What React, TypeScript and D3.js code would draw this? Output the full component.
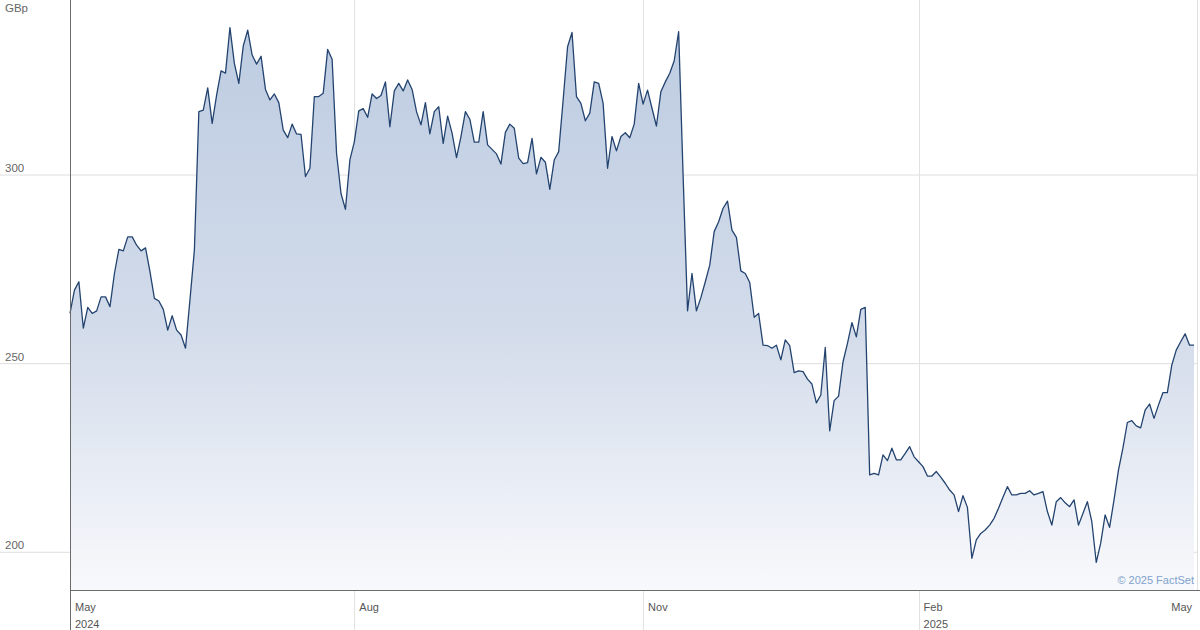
import React from "react";
import * as d3 from "d3";

// Daily closing prices (GBp), one per trading day, May 2024 – May 2025
const prices: number[] = [
  263.3, 269.5, 271.7, 259.4, 264.9, 263.3, 264.0, 267.7, 267.7, 265.1,
  273.9, 280.3, 279.9, 283.6, 283.6, 281.4, 279.9, 280.7, 274.4, 267.3,
  266.6, 264.4, 258.9, 262.7, 258.9, 257.6, 254.1, 266.9, 280.1, 316.8,
  317.2, 323.1, 313.7, 321.2, 327.6, 327.0, 339.1, 329.6, 324.3, 334.2,
  338.4, 331.8, 329.4, 331.5, 322.7, 319.9, 321.5, 319.2, 311.9, 309.9,
  313.5, 310.9, 310.8, 299.6, 301.8, 320.8, 320.8, 321.7, 333.3, 330.7,
  305.7, 295.1, 290.9, 304.0, 308.8, 317.0, 317.6, 315.3, 321.5, 320.3,
  321.1, 324.7, 312.8, 322.3, 324.3, 322.3, 325.2, 322.7, 316.8, 313.3,
  319.2, 310.9, 316.8, 318.1, 308.4, 315.6, 311.1, 304.6, 310.2, 316.8,
  314.8, 308.7, 308.7, 316.8, 308.0, 306.8, 305.6, 302.9, 311.3, 313.5,
  312.4, 304.5, 303.0, 303.3, 309.7, 300.3, 304.7, 303.4, 296.2, 304.0,
  306.2, 319.9, 334.0, 337.8, 320.8, 319.0, 314.4, 316.4, 324.7, 324.3,
  319.0, 301.8, 310.2, 306.4, 310.2, 311.2, 309.9, 313.5, 324.3, 318.8,
  322.5, 317.7, 313.0, 322.1, 324.7, 327.0, 330.3, 338.0, 300.0, 264.0,
  273.9, 264.0, 267.5, 271.7, 276.1, 285.0, 287.6, 291.2, 293.1, 285.4,
  283.5, 274.6, 273.9, 271.5, 262.3, 263.3, 254.9, 254.8, 254.1, 254.9,
  251.0, 256.3, 254.8, 247.6, 248.1, 247.9, 245.9, 244.6, 239.6, 241.7,
  254.3, 232.2, 240.2, 241.4, 250.5, 255.4, 260.9, 257.1, 264.4, 264.9,
  220.5, 220.9, 220.5, 225.8, 224.3, 227.6, 224.5, 224.5, 226.2, 228.0,
  225.3, 224.0, 222.7, 220.2, 220.2, 221.4, 219.9, 218.3, 216.5, 215.2,
  210.8, 215.0, 211.9, 198.4, 203.3, 205.0, 205.9, 207.2, 209.0, 211.7,
  214.6, 217.4, 215.2, 215.2, 215.6, 215.6, 216.3, 215.2, 215.6, 216.1,
  210.8, 207.2, 213.4, 214.5, 213.1, 212.1, 213.9, 207.2, 210.3, 213.4,
  208.1, 197.3, 202.4, 209.9, 206.6, 213.9, 221.8, 227.6, 234.4, 234.9,
  233.5, 233.0, 237.7, 239.3, 235.5, 239.0, 242.3, 242.3, 249.6, 253.6,
  255.8, 257.9, 254.9, 254.9,
];

const yTicks: number[] = [200, 250, 300];
const xTickIndex: number[] = [0, 64, 129, 191, 253];
const xTickMonth: string[] = ["May", "Aug", "Nov", "Feb", "May"];
const xTickYear: string[] = ["2024", "", "", "2025", ""];
const unitLabel = "GBp";
const credit = "\u00A9 2025 FactSet";

const W = 1200;
const H = 630;
const left = 70;
const plotRight = 1197.5;
const plotBottom = 590;
const font = "'Liberation Sans', Arial, Helvetica, sans-serif";

export default function App() {
  const x = d3.scaleLinear().domain([0, prices.length - 1]).range([70, 1194]);
  const y = d3.scaleLinear().domain([190, 346.4]).range([plotBottom, 0]);

  const line = d3
    .line<number>()
    .x((_, i) => x(i))
    .y((d) => y(d));
  const area = d3
    .area<number>()
    .x((_, i) => x(i))
    .y0(plotBottom)
    .y1((d) => y(d));

  return (
    <svg
      width={W}
      height={H}
      style={{ position: "absolute", left: 0, top: 0, display: "block", background: "#fff" }}
      fontFamily={font}
    >
      <defs>
        <linearGradient id="fillGrad" gradientUnits="userSpaceOnUse" x1="0" y1="0" x2="0" y2={plotBottom}>
          <stop offset="0" stopColor="#bccbe1" />
          <stop offset="0.55" stopColor="#d2dbea" />
          <stop offset="1" stopColor="#f8f9fc" />
        </linearGradient>
      </defs>

      {/* horizontal grid */}
      {yTicks.map((t) => (
        <line key={"hg" + t} x1={0} x2={plotRight} y1={y(t)} y2={y(t)} stroke="#dedede" strokeWidth={1} />
      ))}
      {/* vertical grid */}
      {xTickIndex.slice(1, 4).map((t) => (
        <line key={"vg" + t} x1={Math.round(x(t)) + 0.5} x2={Math.round(x(t)) + 0.5} y1={0} y2={H} stroke="#e2e2e2" strokeWidth={1} />
      ))}

      <path d={area(prices) || ""} fill="url(#fillGrad)" />
      <path d={line(prices) || ""} fill="none" stroke="#23436f" strokeWidth={1.3} strokeLinejoin="round" />

      {/* right border */}
      <line x1={plotRight} x2={plotRight} y1={0} y2={plotBottom} stroke="#e0e0e0" strokeWidth={1} />
      {/* axes */}
      <line x1={left + 0.5} x2={left + 0.5} y1={0} y2={H} stroke="#6b6b6b" strokeWidth={1} />
      <line x1={left} x2={W} y1={plotBottom + 0.5} y2={plotBottom + 0.5} stroke="#6b6b6b" strokeWidth={1} />

      {/* y labels */}
      <text x={5} y={12} fontSize={11.5} fill="#666">{unitLabel}</text>
      {yTicks.map((t) => (
        <text key={"yl" + t} x={5} y={y(t) - 3} fontSize={11.5} fill="#666">
          {t}
        </text>
      ))}

      {/* x labels */}
      {xTickIndex.map((t, i) => {
        const last = i === xTickIndex.length - 1;
        const tx = last ? 1192 : x(t) + 5;
        return (
          <g key={"xl" + i}>
            <text x={tx} y={611} fontSize={11} fill="#555" textAnchor={last ? "end" : "start"}>
              {xTickMonth[i]}
            </text>
            {xTickYear[i] && (
              <text x={tx} y={628} fontSize={11} fill="#555">
                {xTickYear[i]}
              </text>
            )}
          </g>
        );
      })}

      <text x={1194} y={584} fontSize={11} fill="#7fa2cc" textAnchor="end">
        {credit}
      </text>
    </svg>
  );
}
